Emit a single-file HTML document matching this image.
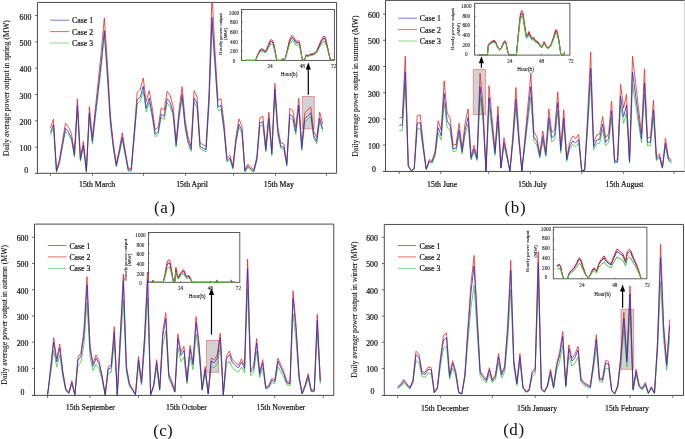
<!DOCTYPE html><html><head><meta charset="utf-8"><style>html,body{margin:0;padding:0;background:#fff;overflow:hidden;}svg{display:block;will-change:transform;}</style></head><body><svg width="685" height="439" viewBox="0 0 685 439">
<rect width="685" height="439" fill="#fff"/>
<style>text{stroke:#111;stroke-width:0.2px;} text.cap{stroke-width:0;} text.sm{stroke-width:0.08px;} text.yl{stroke-width:0.08px;}</style>
<g font-family='"Liberation Serif", serif' fill="#111">
<rect x="302.3" y="96.5" width="11.90" height="32.30" fill="#d2d2d2" stroke="#e08c8c" stroke-width="0.9"/>
<clipPath id="clipa"><rect x="37.45" y="2.45" width="299.15000000000003" height="170.85000000000002"/></clipPath>
<g clip-path="url(#clipa)">
<polyline points="50.50,135.29 53.49,127.32 56.48,172.44 59.47,163.32 62.46,146.81 65.45,131.07 68.45,134.62 71.44,140.19 74.43,157.08 77.42,109.27 80.41,161.21 83.40,147.19 86.39,172.44 89.38,116.28 92.37,143.74 95.37,117.43 98.36,92.47 101.35,66.55 104.34,33.80 107.33,77.11 110.32,123.19 113.31,148.63 116.30,166.87 119.29,154.20 122.28,139.51 125.28,155.64 128.27,171.10 131.26,171.10 134.25,137.59 137.24,103.61 140.23,101.31 143.22,90.84 146.21,111.87 149.20,102.07 152.19,117.43 155.19,136.73 158.18,134.62 161.17,117.43 164.16,119.55 167.15,102.75 170.14,106.20 173.13,116.09 176.12,147.19 179.11,118.39 182.10,98.52 185.09,127.99 188.09,143.35 191.08,151.42 194.07,102.07 197.06,107.64 200.05,148.63 203.04,150.07 206.03,151.71 209.02,103.99 212.01,24.70 215.00,67.51 218.00,110.71 220.99,109.27 223.98,130.68 226.97,162.17 229.96,159.58 232.95,169.18 235.94,142.97 238.93,127.23 241.92,133.18 244.92,172.15 247.91,167.35 250.90,170.23 253.89,172.15 256.88,160.63 259.87,126.17 262.86,124.83 265.85,152.09 268.84,121.27 271.83,155.64 274.83,93.43 277.82,134.62 280.81,148.63 283.80,149.31 286.79,166.11 289.78,117.82 292.77,119.93 295.76,134.62 298.75,108.79 301.74,150.75 304.74,122.04 307.73,119.16 310.72,116.38 313.71,138.07 316.70,143.74 319.69,121.27 322.68,131.83" fill="none" stroke="#3cc43c" stroke-width="0.8" stroke-linejoin="round"/>
<polyline points="50.50,128.01 53.49,119.05 56.48,169.81 59.47,159.55 62.46,140.97 65.45,123.26 68.45,127.26 71.44,133.52 74.43,152.53 77.42,98.74 80.41,157.17 83.40,141.40 86.39,169.81 89.38,106.63 92.37,137.52 95.37,107.92 98.36,79.84 101.35,50.68 104.34,18.00 107.33,62.56 110.32,114.40 113.31,143.02 116.30,163.54 119.29,149.29 122.28,132.76 125.28,150.91 128.27,168.30 131.26,168.30 134.25,130.60 137.24,92.37 140.23,89.78 143.22,78.01 146.21,101.66 149.20,90.64 152.19,107.92 155.19,129.63 158.18,127.26 161.17,107.92 164.16,110.30 167.15,91.40 170.14,95.29 173.13,106.41 176.12,141.40 179.11,109.00 182.10,86.65 185.09,119.80 188.09,137.08 191.08,146.16 194.07,90.64 197.06,96.91 200.05,143.02 203.04,144.64 206.03,146.48 209.02,92.80 212.01,-5.00 215.00,51.76 218.00,100.36 220.99,98.74 223.98,122.83 226.97,158.25 229.96,155.34 232.95,166.14 235.94,136.65 238.93,118.94 241.92,125.64 244.92,169.48 247.91,164.08 250.90,167.32 253.89,169.48 256.88,156.52 259.87,117.75 262.86,116.24 265.85,146.91 268.84,112.24 271.83,150.91 274.83,83.40 277.82,127.26 280.81,143.02 283.80,143.78 286.79,162.68 289.78,108.36 292.77,110.73 295.76,127.26 298.75,98.20 301.74,145.40 304.74,113.11 307.73,109.87 310.72,106.74 313.71,131.14 316.70,137.52 319.69,112.24 322.68,124.12" fill="none" stroke="#ec2424" stroke-width="0.8" stroke-linejoin="round"/>
<polyline points="50.50,132.60 53.49,124.30 56.48,171.30 59.47,161.80 62.46,144.60 65.45,128.20 68.45,131.90 71.44,137.70 74.43,155.30 77.42,105.50 80.41,159.60 83.40,145.00 86.39,171.30 89.38,112.80 92.37,141.40 95.37,114.00 98.36,88.00 101.35,61.00 104.34,30.70 107.33,72.00 110.32,120.00 113.31,146.50 116.30,165.50 119.29,152.30 122.28,137.00 125.28,153.80 128.27,169.90 131.26,169.90 134.25,135.00 137.24,99.60 140.23,97.20 143.22,86.30 146.21,108.20 149.20,98.00 152.19,114.00 155.19,134.10 158.18,131.90 161.17,114.00 164.16,116.20 167.15,98.70 170.14,102.30 173.13,112.60 176.12,145.00 179.11,115.00 182.10,94.30 185.09,125.00 188.09,141.00 191.08,149.40 194.07,98.00 197.06,103.80 200.05,146.50 203.04,148.00 206.03,149.70 209.02,100.00 212.01,17.40 215.00,62.00 218.00,107.00 220.99,105.50 223.98,127.80 226.97,160.60 229.96,157.90 232.95,167.90 235.94,140.60 238.93,124.20 241.92,130.40 244.92,171.00 247.91,166.00 250.90,169.00 253.89,171.00 256.88,159.00 259.87,123.10 262.86,121.70 265.85,150.10 268.84,118.00 271.83,153.80 274.83,89.00 277.82,131.90 280.81,146.50 283.80,147.20 286.79,164.70 289.78,114.40 292.77,116.60 295.76,131.90 298.75,105.00 301.74,148.70 304.74,118.80 307.73,115.80 310.72,112.90 313.71,135.50 316.70,141.40 319.69,118.00 322.68,129.00" fill="none" stroke="#2c2cc8" stroke-width="0.8" stroke-linejoin="round"/>
</g>
<path d="M37.45,2.45H336.6M37.45,2.45V173.3M34.95,173.3H336.6" fill="none" stroke="#4a4a4a" stroke-width="1"/>
<line x1="336.6" y1="2.45" x2="336.6" y2="173.3" stroke="#4a4a4a" stroke-width="1"/>
<line x1="50.5" y1="173.3" x2="50.5" y2="175.8" stroke="#4a4a4a" stroke-width="0.8"/>
<line x1="92.5" y1="173.3" x2="92.5" y2="175.8" stroke="#4a4a4a" stroke-width="0.8"/>
<line x1="143.5" y1="173.3" x2="143.5" y2="175.8" stroke="#4a4a4a" stroke-width="0.8"/>
<line x1="185.5" y1="173.3" x2="185.5" y2="175.8" stroke="#4a4a4a" stroke-width="0.8"/>
<line x1="233.5" y1="173.3" x2="233.5" y2="175.8" stroke="#4a4a4a" stroke-width="0.8"/>
<line x1="275.5" y1="173.3" x2="275.5" y2="175.8" stroke="#4a4a4a" stroke-width="0.8"/>
<line x1="326.5" y1="173.3" x2="326.5" y2="175.8" stroke="#4a4a4a" stroke-width="0.8"/>
<line x1="34.95" y1="15.52" x2="37.45" y2="15.52" stroke="#4a4a4a" stroke-width="0.8"/>
<text x="31.30" y="19.62" font-size="7.8" text-anchor="end" >600</text>
<line x1="34.95" y1="41.85" x2="37.45" y2="41.85" stroke="#4a4a4a" stroke-width="0.8"/>
<text x="31.30" y="45.95" font-size="7.8" text-anchor="end" >500</text>
<line x1="34.95" y1="68.18" x2="37.45" y2="68.18" stroke="#4a4a4a" stroke-width="0.8"/>
<text x="31.30" y="72.28" font-size="7.8" text-anchor="end" >400</text>
<line x1="34.95" y1="94.51" x2="37.45" y2="94.51" stroke="#4a4a4a" stroke-width="0.8"/>
<text x="31.30" y="98.61" font-size="7.8" text-anchor="end" >300</text>
<line x1="34.95" y1="120.84" x2="37.45" y2="120.84" stroke="#4a4a4a" stroke-width="0.8"/>
<text x="31.30" y="124.94" font-size="7.8" text-anchor="end" >200</text>
<line x1="34.95" y1="147.17" x2="37.45" y2="147.17" stroke="#4a4a4a" stroke-width="0.8"/>
<text x="31.30" y="151.27" font-size="7.8" text-anchor="end" >100</text>
<text x="24.20" y="173.00" font-size="7.8" text-anchor="start" >0</text>
<text x="79.00" y="187.10" font-size="7.8" text-anchor="start" >15th March</text>
<text x="176.20" y="187.10" font-size="7.8" text-anchor="start" >15th April</text>
<text x="263.80" y="187.10" font-size="7.8" text-anchor="start" >15th May</text>
<text class="yl" x="0" y="0" font-size="7.7" text-anchor="middle" transform="translate(8.9,88.15) rotate(-90)">Daily average power output in spring (MW)</text>
<line x1="50.0" y1="20.2" x2="69.2" y2="20.2" stroke="#7a7ae0" stroke-width="1"/>
<text x="72.10" y="23.20" font-size="7.8" text-anchor="start" >Case 1</text>
<line x1="50.0" y1="31.6" x2="69.2" y2="31.6" stroke="#e86a6a" stroke-width="1"/>
<text x="72.10" y="34.60" font-size="7.8" text-anchor="start" >Case 2</text>
<line x1="50.0" y1="43.0" x2="69.2" y2="43.0" stroke="#8ad88a" stroke-width="1"/>
<text x="72.10" y="46.00" font-size="7.8" text-anchor="start" >Case 3</text>
<text x="154.00" y="212.80" font-size="17" text-anchor="start" class="cap">(</text>
<text x="160.30" y="212.80" font-size="17" text-anchor="start" class="cap">a</text>
<text x="169.40" y="212.80" font-size="17" text-anchor="start" class="cap">)</text>
<line x1="308.3" y1="67.5" x2="308.3" y2="94.7" stroke="#000" stroke-width="1.2"/>
<path d="M308.3,62.5L305.7,69.5L310.90000000000003,69.5Z" fill="#000"/>
<rect x="241.5" y="9.5" width="92.90" height="50.90" fill="#fff" stroke="#4a4a4a" stroke-width="0.9"/>
<polyline points="245.90,60.39 255.40,60.39 257.80,54.93 260.10,50.65 261.60,49.83 263.20,50.29 264.70,51.75 266.30,50.65 268.60,45.74 270.50,41.83 271.70,41.46 273.30,43.65 274.80,49.93 276.40,58.39 277.10,60.39 281.00,60.39 281.80,59.48 283.30,59.12 284.50,59.48 285.50,57.75 287.50,49.93 289.60,41.46 292.00,37.64 293.50,39.01 295.80,42.55 297.00,43.19 298.20,42.19 299.30,43.19 300.50,49.20 302.00,58.39 303.20,60.12 304.50,60.03 306.30,55.20 308.20,55.93 309.80,54.84 312.10,54.48 314.40,53.84 316.70,51.66 319.10,46.38 321.40,41.46 323.70,38.28 324.90,38.64 326.80,45.01 328.70,52.75 330.30,59.75 331.10,60.12 334.30,60.12" fill="none" stroke="#2c2cc8" stroke-width="1.0" stroke-linejoin="round"/>
<polyline points="245.90,60.40 255.40,60.40 257.80,54.40 260.10,49.70 261.60,48.80 263.20,49.30 264.70,50.90 266.30,49.70 268.60,44.30 270.50,40.00 271.70,39.60 273.30,42.00 274.80,48.90 276.40,58.20 277.10,60.40 281.00,60.40 281.80,59.40 283.30,59.00 284.50,59.40 285.50,57.50 287.50,48.90 289.60,39.60 292.00,35.40 293.50,36.90 295.80,40.80 297.00,41.50 298.20,40.40 299.30,41.50 300.50,48.10 302.00,58.20 303.20,60.10 304.50,60.00 306.30,54.70 308.20,55.50 309.80,54.30 312.10,53.90 314.40,53.20 316.70,50.80 319.10,45.00 321.40,39.60 323.70,36.10 324.90,36.50 326.80,43.50 328.70,52.00 330.30,59.70 331.10,60.10 334.30,60.10" fill="none" stroke="#ec2424" stroke-width="1.0" stroke-linejoin="round"/>
<polyline points="245.90,60.38 255.40,60.38 257.80,55.64 260.10,51.93 261.60,51.21 263.20,51.61 264.70,52.87 266.30,51.93 268.60,47.66 270.50,44.26 271.70,43.95 273.30,45.84 274.80,51.29 276.40,58.64 277.10,60.38 281.00,60.38 281.80,59.59 283.30,59.27 284.50,59.59 285.50,58.09 287.50,51.29 289.60,43.95 292.00,40.63 293.50,41.81 295.80,44.89 297.00,45.45 298.20,44.58 299.30,45.45 300.50,50.66 302.00,58.64 303.20,60.14 304.50,60.06 306.30,55.88 308.20,56.51 309.80,55.56 312.10,55.24 314.40,54.69 316.70,52.79 319.10,48.21 321.40,43.95 323.70,41.18 324.90,41.50 326.80,47.03 328.70,53.74 330.30,59.83 331.10,60.14 334.30,60.14" fill="none" stroke="#3cc43c" stroke-width="1.0" stroke-linejoin="round"/>
<text x="234.00" y="62.55" font-size="5.2" text-anchor="middle" class="sm">0</text>
<text x="234.00" y="53.03" font-size="5.2" text-anchor="middle" class="sm">200</text>
<line x1="241.5" y1="50.88" x2="243.0" y2="50.88" stroke="#4a4a4a" stroke-width="0.5"/>
<text x="234.00" y="43.51" font-size="5.2" text-anchor="middle" class="sm">400</text>
<line x1="241.5" y1="41.36" x2="243.0" y2="41.36" stroke="#4a4a4a" stroke-width="0.5"/>
<text x="234.00" y="33.99" font-size="5.2" text-anchor="middle" class="sm">600</text>
<line x1="241.5" y1="31.84" x2="243.0" y2="31.84" stroke="#4a4a4a" stroke-width="0.5"/>
<text x="234.00" y="24.47" font-size="5.2" text-anchor="middle" class="sm">800</text>
<line x1="241.5" y1="22.32" x2="243.0" y2="22.32" stroke="#4a4a4a" stroke-width="0.5"/>
<text x="234.00" y="14.95" font-size="5.2" text-anchor="middle" class="sm">1000</text>
<line x1="241.5" y1="12.80" x2="243.0" y2="12.80" stroke="#4a4a4a" stroke-width="0.5"/>
<text x="270.01" y="68.10" font-size="5.2" text-anchor="middle" class="sm">24</text>
<line x1="270.01" y1="60.4" x2="270.01" y2="58.9" stroke="#4a4a4a" stroke-width="0.5"/>
<text x="302.22" y="68.10" font-size="5.2" text-anchor="middle" class="sm">48</text>
<line x1="302.22" y1="60.4" x2="302.22" y2="58.9" stroke="#4a4a4a" stroke-width="0.5"/>
<text x="333.60" y="68.10" font-size="5.2" text-anchor="middle" class="sm">72</text>
<text x="289.10" y="75.70" font-size="5.2" text-anchor="middle" class="sm">Hour(h)</text>
<text class="sm" x="0" y="0" font-size="5.0" text-anchor="middle" transform="translate(222.3,34.0) rotate(-90)">Hourly power output</text>
<text class="sm" x="0" y="0" font-size="5.0" text-anchor="middle" transform="translate(227.10000000000002,34.0) rotate(-90)">(MW)</text>
<rect x="473.3" y="69.6" width="12.30" height="44.90" fill="#d2d2d2" stroke="#e08c8c" stroke-width="0.9"/>
<clipPath id="clipb"><rect x="385.47" y="0.4" width="299.53" height="171.04999999999998"/></clipPath>
<g clip-path="url(#clipb)">
<polyline points="399.30,131.00 402.29,130.38 405.28,84.00 408.27,166.64 411.26,170.86 414.25,168.92 417.24,129.06 420.23,128.44 423.22,150.27 426.21,169.54 429.20,162.50 432.19,163.12 435.18,155.46 438.17,132.93 441.16,139.97 444.15,102.66 447.14,127.12 450.13,131.00 453.12,151.59 456.11,150.80 459.10,134.87 462.09,154.14 465.08,134.87 468.07,123.96 471.06,159.95 474.05,151.59 477.04,160.56 480.03,96.85 483.02,121.76 486.01,170.86 489.00,106.44 491.99,130.38 494.98,155.46 497.97,122.02 500.96,168.31 503.95,145.78 506.94,158.01 509.93,170.86 512.92,143.23 515.91,107.76 518.90,143.23 521.89,170.86 524.88,146.22 527.87,121.58 530.86,96.85 533.85,141.29 536.84,145.16 539.83,158.01 542.82,140.68 545.81,156.69 548.80,123.96 551.79,141.91 554.78,139.36 557.77,110.93 560.76,152.82 563.75,124.57 566.74,161.18 569.73,149.04 572.72,144.46 575.71,146.40 578.70,143.23 581.69,170.86 584.68,170.16 587.67,128.44 590.66,80.75 593.65,149.65 596.64,143.84 599.63,143.23 602.62,129.76 605.61,145.78 608.60,142.61 611.59,118.06 614.58,163.12 617.57,162.50 620.56,105.21 623.55,123.34 626.54,112.87 629.53,163.12 632.52,84.00 635.51,103.89 638.50,123.34 641.49,142.61 644.48,93.60 647.47,145.78 650.46,145.78 653.45,117.36 656.44,160.56 659.43,158.01 662.42,168.31 665.41,146.40 668.40,160.56 671.39,163.12" fill="none" stroke="#3cc43c" stroke-width="0.8" stroke-linejoin="round"/>
<polyline points="399.30,118.17 402.29,117.36 405.28,56.23 408.27,165.15 411.26,170.72 414.25,168.17 417.24,115.62 420.23,114.81 423.22,143.58 426.21,168.98 429.20,159.70 432.19,160.51 435.18,150.42 438.17,120.72 441.16,130.00 444.15,80.82 447.14,113.07 450.13,118.17 453.12,145.32 456.11,144.27 459.10,123.28 462.09,148.68 465.08,123.28 468.07,108.89 471.06,156.34 474.05,145.32 477.04,157.15 480.03,73.16 483.02,105.99 486.01,170.72 489.00,85.81 491.99,117.36 494.98,150.42 497.97,106.34 500.96,167.36 503.95,137.66 506.94,153.78 509.93,170.72 512.92,134.30 515.91,87.55 518.90,134.30 521.89,170.72 524.88,138.24 527.87,105.76 530.86,73.16 533.85,131.74 536.84,136.85 539.83,153.78 542.82,130.93 545.81,152.04 548.80,108.89 551.79,132.56 554.78,129.19 557.77,91.72 560.76,146.94 563.75,109.70 566.74,157.96 569.73,141.95 572.72,135.92 575.71,138.47 578.70,134.30 581.69,170.72 584.68,169.79 587.67,114.81 590.66,51.94 593.65,142.76 596.64,135.11 599.63,134.30 602.62,116.55 605.61,137.66 608.60,133.48 611.59,101.12 614.58,160.51 617.57,159.70 620.56,84.18 623.55,108.08 626.54,94.28 629.53,160.51 632.52,56.23 635.51,82.44 638.50,108.08 641.49,133.48 644.48,68.87 647.47,137.66 650.46,137.66 653.45,100.19 656.44,157.15 659.43,153.78 662.42,167.36 665.41,138.47 668.40,157.15 671.39,160.51" fill="none" stroke="#ec2424" stroke-width="0.8" stroke-linejoin="round"/>
<polyline points="399.30,125.50 402.29,124.80 405.28,72.10 408.27,166.00 411.26,170.80 414.25,168.60 417.24,123.30 420.23,122.60 423.22,147.40 426.21,169.30 429.20,161.30 432.19,162.00 435.18,153.30 438.17,127.70 441.16,135.70 444.15,93.30 447.14,121.10 450.13,125.50 453.12,148.90 456.11,148.00 459.10,129.90 462.09,151.80 465.08,129.90 468.07,117.50 471.06,158.40 474.05,148.90 477.04,159.10 480.03,86.70 483.02,115.00 486.01,170.80 489.00,97.60 491.99,124.80 494.98,153.30 497.97,115.30 500.96,167.90 503.95,142.30 506.94,156.20 509.93,170.80 512.92,139.40 515.91,99.10 518.90,139.40 521.89,170.80 524.88,142.80 527.87,114.80 530.86,86.70 533.85,137.20 536.84,141.60 539.83,156.20 542.82,136.50 545.81,154.70 548.80,117.50 551.79,137.90 554.78,135.00 557.77,102.70 560.76,150.30 563.75,118.20 566.74,159.80 569.73,146.00 572.72,140.80 575.71,143.00 578.70,139.40 581.69,170.80 584.68,170.00 587.67,122.60 590.66,68.40 593.65,146.70 596.64,140.10 599.63,139.40 602.62,124.10 605.61,142.30 608.60,138.70 611.59,110.80 614.58,162.00 617.57,161.30 620.56,96.20 623.55,116.80 626.54,104.90 629.53,162.00 632.52,72.10 635.51,94.70 638.50,116.80 641.49,138.70 644.48,83.00 647.47,142.30 650.46,142.30 653.45,110.00 656.44,159.10 659.43,156.20 662.42,167.90 665.41,143.00 668.40,159.10 671.39,162.00" fill="none" stroke="#2c2cc8" stroke-width="0.8" stroke-linejoin="round"/>
</g>
<path d="M385.47,0.4H685M385.47,0.4V171.45M382.97,171.45H685" fill="none" stroke="#4a4a4a" stroke-width="1"/>
<line x1="684.5" y1="0.4" x2="684.5" y2="171.45" stroke="#d4d4d4" stroke-width="1"/>
<line x1="399.3" y1="171.45" x2="399.3" y2="173.95" stroke="#4a4a4a" stroke-width="0.8"/>
<line x1="440.7" y1="171.45" x2="440.7" y2="173.95" stroke="#4a4a4a" stroke-width="0.8"/>
<line x1="488.4" y1="171.45" x2="488.4" y2="173.95" stroke="#4a4a4a" stroke-width="0.8"/>
<line x1="530.4" y1="171.45" x2="530.4" y2="173.95" stroke="#4a4a4a" stroke-width="0.8"/>
<line x1="581.9" y1="171.45" x2="581.9" y2="173.95" stroke="#4a4a4a" stroke-width="0.8"/>
<line x1="623.6" y1="171.45" x2="623.6" y2="173.95" stroke="#4a4a4a" stroke-width="0.8"/>
<line x1="674.1" y1="171.45" x2="674.1" y2="173.95" stroke="#4a4a4a" stroke-width="0.8"/>
<line x1="382.97" y1="14.10" x2="385.47" y2="14.10" stroke="#4a4a4a" stroke-width="0.8"/>
<text x="379.70" y="18.20" font-size="7.8" text-anchor="end" >600</text>
<line x1="382.97" y1="40.30" x2="385.47" y2="40.30" stroke="#4a4a4a" stroke-width="0.8"/>
<text x="379.70" y="44.40" font-size="7.8" text-anchor="end" >500</text>
<line x1="382.97" y1="66.50" x2="385.47" y2="66.50" stroke="#4a4a4a" stroke-width="0.8"/>
<text x="379.70" y="70.60" font-size="7.8" text-anchor="end" >400</text>
<line x1="382.97" y1="92.70" x2="385.47" y2="92.70" stroke="#4a4a4a" stroke-width="0.8"/>
<text x="379.70" y="96.80" font-size="7.8" text-anchor="end" >300</text>
<line x1="382.97" y1="118.90" x2="385.47" y2="118.90" stroke="#4a4a4a" stroke-width="0.8"/>
<text x="379.70" y="123.00" font-size="7.8" text-anchor="end" >200</text>
<line x1="382.97" y1="145.10" x2="385.47" y2="145.10" stroke="#4a4a4a" stroke-width="0.8"/>
<text x="379.70" y="149.20" font-size="7.8" text-anchor="end" >100</text>
<text x="371.90" y="171.70" font-size="7.8" text-anchor="start" >0</text>
<text x="427.10" y="186.80" font-size="7.8" text-anchor="start" >15th June</text>
<text x="518.00" y="186.80" font-size="7.8" text-anchor="start" >15th July</text>
<text x="605.50" y="186.80" font-size="7.8" text-anchor="start" >15th August</text>
<text class="yl" x="0" y="0" font-size="7.7" text-anchor="middle" transform="translate(357.6,86.1) rotate(-90)">Daily average power output in summer (MW)</text>
<line x1="398.2" y1="18.2" x2="416.9" y2="18.2" stroke="#7a7ae0" stroke-width="1"/>
<text x="419.80" y="21.20" font-size="7.8" text-anchor="start" >Case 1</text>
<line x1="398.2" y1="29.6" x2="416.9" y2="29.6" stroke="#e86a6a" stroke-width="1"/>
<text x="419.80" y="32.60" font-size="7.8" text-anchor="start" >Case 2</text>
<line x1="398.2" y1="41.0" x2="416.9" y2="41.0" stroke="#8ad88a" stroke-width="1"/>
<text x="419.80" y="44.00" font-size="7.8" text-anchor="start" >Case 3</text>
<text x="504.40" y="212.80" font-size="17" text-anchor="start" class="cap">(</text>
<text x="510.70" y="212.80" font-size="17" text-anchor="start" class="cap">b</text>
<text x="520.10" y="212.80" font-size="17" text-anchor="start" class="cap">)</text>
<line x1="481.4" y1="61.2" x2="481.4" y2="67.8" stroke="#000" stroke-width="1.2"/>
<path d="M481.4,56.2L478.79999999999995,63.2L484.0,63.2Z" fill="#000"/>
<rect x="474.6" y="3.3" width="95.30" height="51.80" fill="#fff" stroke="#4a4a4a" stroke-width="0.9"/>
<polyline points="478.70,54.80 487.50,54.80 488.20,45.68 489.70,43.61 491.90,42.20 494.10,41.17 495.50,42.20 497.40,46.72 499.50,49.82 501.40,48.03 503.20,43.90 504.70,41.55 506.10,43.24 507.20,49.44 508.70,54.61 509.80,54.80 516.40,54.80 518.30,35.06 520.20,17.67 521.60,13.06 522.90,14.76 524.50,25.75 526.30,36.75 527.50,36.19 529.00,32.90 530.60,36.75 532.20,39.10 533.70,38.44 535.50,41.36 538.00,42.49 539.80,45.40 541.70,47.47 544.10,42.49 546.00,45.96 547.80,48.31 550.90,45.40 553.40,38.44 555.80,30.92 557.00,32.15 558.90,40.79 560.70,53.48 562.00,54.80 563.80,54.80 564.70,51.79" fill="none" stroke="#2c2cc8" stroke-width="1.0" stroke-linejoin="round"/>
<polyline points="478.70,54.80 487.50,54.80 488.20,45.10 489.70,42.90 491.90,41.40 494.10,40.30 495.50,41.40 497.40,46.20 499.50,49.50 501.40,47.60 503.20,43.20 504.70,40.70 506.10,42.50 507.20,49.10 508.70,54.60 509.80,54.80 516.40,54.80 518.30,33.80 520.20,15.30 521.60,10.40 522.90,12.20 524.50,23.90 526.30,35.60 527.50,35.00 529.00,31.50 530.60,35.60 532.20,38.10 533.70,37.40 535.50,40.50 538.00,41.70 539.80,44.80 541.70,47.00 544.10,41.70 546.00,45.40 547.80,47.90 550.90,44.80 553.40,37.40 555.80,29.40 557.00,30.70 558.90,39.90 560.70,53.40 562.00,54.80 563.80,54.80 564.70,51.60" fill="none" stroke="#ec2424" stroke-width="1.0" stroke-linejoin="round"/>
<polyline points="478.70,54.80 487.50,54.80 488.20,46.36 489.70,44.45 491.90,43.14 494.10,42.18 495.50,43.14 497.40,47.32 499.50,50.19 501.40,48.54 503.20,44.71 504.70,42.53 506.10,44.10 507.20,49.84 508.70,54.63 509.80,54.80 516.40,54.80 518.30,36.53 520.20,20.43 521.60,16.17 522.90,17.74 524.50,27.92 526.30,38.10 527.50,37.57 529.00,34.53 530.60,38.10 532.20,40.27 533.70,39.66 535.50,42.36 538.00,43.40 539.80,46.10 541.70,48.01 544.10,43.40 546.00,46.62 547.80,48.80 550.90,46.10 553.40,39.66 555.80,32.70 557.00,33.83 558.90,41.84 560.70,53.58 562.00,54.80 563.80,54.80 564.70,52.02" fill="none" stroke="#3cc43c" stroke-width="1.0" stroke-linejoin="round"/>
<text x="466.30" y="56.45" font-size="5.2" text-anchor="middle" class="sm">0</text>
<text x="466.30" y="46.79" font-size="5.2" text-anchor="middle" class="sm">200</text>
<line x1="474.6" y1="45.44" x2="476.1" y2="45.44" stroke="#4a4a4a" stroke-width="0.5"/>
<text x="466.30" y="37.13" font-size="5.2" text-anchor="middle" class="sm">400</text>
<line x1="474.6" y1="35.78" x2="476.1" y2="35.78" stroke="#4a4a4a" stroke-width="0.5"/>
<text x="466.30" y="27.47" font-size="5.2" text-anchor="middle" class="sm">600</text>
<line x1="474.6" y1="26.12" x2="476.1" y2="26.12" stroke="#4a4a4a" stroke-width="0.5"/>
<text x="466.30" y="17.81" font-size="5.2" text-anchor="middle" class="sm">800</text>
<line x1="474.6" y1="16.46" x2="476.1" y2="16.46" stroke="#4a4a4a" stroke-width="0.5"/>
<text x="466.30" y="8.15" font-size="5.2" text-anchor="middle" class="sm">1000</text>
<line x1="474.6" y1="6.80" x2="476.1" y2="6.80" stroke="#4a4a4a" stroke-width="0.5"/>
<text x="509.80" y="62.80" font-size="5.2" text-anchor="middle" class="sm">24</text>
<line x1="509.80" y1="55.1" x2="509.80" y2="53.6" stroke="#4a4a4a" stroke-width="0.5"/>
<text x="541.51" y="62.80" font-size="5.2" text-anchor="middle" class="sm">48</text>
<line x1="541.51" y1="55.1" x2="541.51" y2="53.6" stroke="#4a4a4a" stroke-width="0.5"/>
<text x="571.00" y="62.80" font-size="5.2" text-anchor="middle" class="sm">72</text>
<text x="525.60" y="70.50" font-size="5.2" text-anchor="middle" class="sm">Hour(h)</text>
<text class="sm" x="0" y="0" font-size="5.0" text-anchor="middle" transform="translate(453.6,29.2) rotate(-90)">Hourly power output</text>
<text class="sm" x="0" y="0" font-size="5.0" text-anchor="middle" transform="translate(460.0,29.2) rotate(-90)">(MW)</text>
<rect x="206.4" y="340.4" width="12.20" height="31.90" fill="#d2d2d2" stroke="#e08c8c" stroke-width="0.9"/>
<clipPath id="clipc"><rect x="34.5" y="224.1" width="299.25" height="171.29999999999998"/></clipPath>
<g clip-path="url(#clipc)">
<polyline points="47.60,394.60 50.63,373.94 53.66,350.58 56.69,367.13 59.72,355.54 62.75,376.37 65.78,390.48 68.81,393.51 71.84,384.35 74.87,394.60 77.90,365.96 80.93,362.26 83.96,344.54 86.99,302.62 90.02,356.72 93.05,370.83 96.08,364.11 99.11,368.98 102.14,380.07 105.17,394.60 108.20,373.26 111.23,372.09 114.26,341.93 117.29,394.60 120.32,347.06 123.35,300.50 126.38,372.68 129.41,386.20 132.44,390.48 135.47,394.60 138.50,365.28 141.53,384.94 144.56,348.74 147.59,298.00 150.62,394.60 153.65,387.38 156.68,367.80 159.71,390.48 162.74,345.71 165.77,330.84 168.80,378.81 171.83,384.94 174.86,392.33 177.89,347.56 180.92,361.67 183.95,357.30 186.98,383.68 190.01,356.72 193.04,369.57 196.07,333.95 199.10,355.54 202.13,390.48 205.16,373.26 208.19,394.10 211.22,366.54 214.25,367.80 217.28,364.11 220.31,346.89 223.34,394.60 226.37,364.70 229.40,361.00 232.43,367.80 235.46,370.24 238.49,372.09 241.52,367.13 244.55,372.68 247.58,288.84 250.61,375.70 253.64,372.68 256.67,351.26 259.70,377.55 262.73,367.80 265.76,389.22 268.79,387.96 271.82,382.50 274.85,383.68 277.88,366.54 280.91,372.09 283.94,377.55 286.97,384.94 290.00,385.53 293.03,313.71 296.06,340.34 299.09,380.07 302.12,394.10 305.15,387.38 308.18,378.81 311.21,391.66 314.24,391.66 317.27,332.10 320.30,383.68" fill="none" stroke="#3cc43c" stroke-width="0.8" stroke-linejoin="round"/>
<polyline points="47.60,394.80 50.63,367.49 53.66,337.75 56.69,358.82 59.72,344.06 62.75,370.59 65.78,388.57 68.81,392.42 71.84,380.76 74.87,394.80 77.90,357.33 80.93,352.62 83.96,330.04 86.99,276.65 90.02,345.56 93.05,363.53 96.08,354.97 99.11,361.18 102.14,375.30 105.17,394.80 108.20,366.64 111.23,365.14 114.26,326.72 117.29,394.80 120.32,333.25 123.35,274.20 126.38,365.89 129.41,383.11 132.44,388.57 135.47,394.80 138.50,356.47 141.53,381.51 144.56,335.39 147.59,272.10 150.62,394.80 153.65,384.61 156.68,359.68 159.71,388.57 162.74,331.54 165.77,312.60 168.80,373.70 171.83,381.51 174.86,390.92 177.89,333.89 180.92,351.87 183.95,346.31 186.98,379.90 190.01,345.56 193.04,361.93 196.07,316.56 199.10,344.06 202.13,388.57 205.16,366.64 208.19,393.17 211.22,358.08 214.25,359.68 217.28,354.97 220.31,333.04 223.34,394.80 226.37,355.72 229.40,351.01 232.43,359.68 235.46,362.78 238.49,365.14 241.52,358.82 244.55,365.89 247.58,259.10 250.61,369.74 253.64,365.89 256.67,338.60 259.70,372.09 262.73,359.68 265.76,386.97 268.79,385.36 271.82,378.41 274.85,379.90 277.88,358.08 280.91,365.14 283.94,372.09 286.97,381.51 290.00,382.26 293.03,290.77 296.06,324.69 299.09,375.30 302.12,393.17 305.15,384.61 308.18,373.70 311.21,390.07 314.24,390.07 317.27,314.21 320.30,379.90" fill="none" stroke="#ec2424" stroke-width="0.8" stroke-linejoin="round"/>
<polyline points="47.60,394.80 50.63,370.00 53.66,342.20 56.69,361.90 59.72,348.10 62.75,372.90 65.78,389.70 68.81,393.30 71.84,382.40 74.87,394.80 77.90,360.50 80.93,356.10 83.96,335.00 86.99,285.10 90.02,349.50 93.05,366.30 96.08,358.30 99.11,364.10 102.14,377.30 105.17,394.80 108.20,369.20 111.23,367.80 114.26,331.90 117.29,394.80 120.32,338.00 123.35,281.00 126.38,368.50 129.41,384.60 132.44,389.70 135.47,394.80 138.50,359.70 141.53,383.10 144.56,340.00 147.59,280.00 150.62,394.80 153.65,386.00 156.68,362.70 159.71,389.70 162.74,336.40 165.77,318.70 168.80,375.80 171.83,383.10 174.86,391.90 177.89,338.60 180.92,355.40 183.95,350.20 186.98,381.60 190.01,349.50 193.04,364.80 196.07,322.40 199.10,348.10 202.13,389.70 205.16,369.20 208.19,394.00 211.22,361.20 214.25,362.70 217.28,358.30 220.31,337.80 223.34,394.80 226.37,359.00 229.40,354.60 232.43,362.70 235.46,365.60 238.49,367.80 241.52,361.90 244.55,368.50 247.58,268.70 250.61,372.10 253.64,368.50 256.67,343.00 259.70,374.30 262.73,362.70 265.76,388.20 268.79,386.70 271.82,380.20 274.85,381.60 277.88,361.20 280.91,367.80 283.94,374.30 286.97,383.10 290.00,383.80 293.03,298.30 296.06,330.00 299.09,377.30 302.12,394.00 305.15,386.00 308.18,375.80 311.21,391.10 314.24,391.10 317.27,320.20 320.30,381.60" fill="none" stroke="#2c2cc8" stroke-width="0.8" stroke-linejoin="round"/>
</g>
<path d="M34.5,224.1H333.75M34.5,224.1V395.4M32.0,395.4H333.75" fill="none" stroke="#4a4a4a" stroke-width="1"/>
<line x1="333.75" y1="224.1" x2="333.75" y2="395.4" stroke="#4a4a4a" stroke-width="1"/>
<line x1="47.6" y1="395.4" x2="47.6" y2="397.9" stroke="#4a4a4a" stroke-width="0.8"/>
<line x1="90.0" y1="395.4" x2="90.0" y2="397.9" stroke="#4a4a4a" stroke-width="0.8"/>
<line x1="138.5" y1="395.4" x2="138.5" y2="397.9" stroke="#4a4a4a" stroke-width="0.8"/>
<line x1="181.2" y1="395.4" x2="181.2" y2="397.9" stroke="#4a4a4a" stroke-width="0.8"/>
<line x1="232.5" y1="395.4" x2="232.5" y2="397.9" stroke="#4a4a4a" stroke-width="0.8"/>
<line x1="274.7" y1="395.4" x2="274.7" y2="397.9" stroke="#4a4a4a" stroke-width="0.8"/>
<line x1="323.3" y1="395.4" x2="323.3" y2="397.9" stroke="#4a4a4a" stroke-width="0.8"/>
<line x1="32.0" y1="237.28" x2="34.5" y2="237.28" stroke="#4a4a4a" stroke-width="0.8"/>
<text x="28.40" y="241.18" font-size="7.8" text-anchor="end" >600</text>
<line x1="32.0" y1="263.50" x2="34.5" y2="263.50" stroke="#4a4a4a" stroke-width="0.8"/>
<text x="28.40" y="267.40" font-size="7.8" text-anchor="end" >500</text>
<line x1="32.0" y1="289.72" x2="34.5" y2="289.72" stroke="#4a4a4a" stroke-width="0.8"/>
<text x="28.40" y="293.62" font-size="7.8" text-anchor="end" >400</text>
<line x1="32.0" y1="315.94" x2="34.5" y2="315.94" stroke="#4a4a4a" stroke-width="0.8"/>
<text x="28.40" y="319.84" font-size="7.8" text-anchor="end" >300</text>
<line x1="32.0" y1="342.16" x2="34.5" y2="342.16" stroke="#4a4a4a" stroke-width="0.8"/>
<text x="28.40" y="346.06" font-size="7.8" text-anchor="end" >200</text>
<line x1="32.0" y1="368.38" x2="34.5" y2="368.38" stroke="#4a4a4a" stroke-width="0.8"/>
<text x="28.40" y="372.28" font-size="7.8" text-anchor="end" >100</text>
<text x="20.50" y="394.70" font-size="7.8" text-anchor="start" >0</text>
<text x="65.80" y="410.40" font-size="7.8" text-anchor="start" >15th September</text>
<text x="166.00" y="410.40" font-size="7.8" text-anchor="start" >15th October</text>
<text x="256.50" y="410.40" font-size="7.8" text-anchor="start" >15th November</text>
<text class="yl" x="0" y="0" font-size="7.7" text-anchor="middle" transform="translate(6.8,314.85) rotate(-90)">Daily average power output in autumn (MW)</text>
<line x1="47.8" y1="245.5" x2="66.5" y2="245.5" stroke="#7a7ae0" stroke-width="1"/>
<text x="69.40" y="248.50" font-size="7.8" text-anchor="start" >Case 1</text>
<line x1="47.8" y1="256.9" x2="66.5" y2="256.9" stroke="#e86a6a" stroke-width="1"/>
<text x="69.40" y="259.90" font-size="7.8" text-anchor="start" >Case 2</text>
<line x1="47.8" y1="268.3" x2="66.5" y2="268.3" stroke="#8ad88a" stroke-width="1"/>
<text x="69.40" y="271.30" font-size="7.8" text-anchor="start" >Case 3</text>
<text x="153.30" y="435.60" font-size="17" text-anchor="start" class="cap">(</text>
<text x="159.20" y="435.60" font-size="17" text-anchor="start" class="cap">c</text>
<text x="166.90" y="435.60" font-size="17" text-anchor="start" class="cap">)</text>
<line x1="211.5" y1="293.0" x2="211.5" y2="334.6" stroke="#000" stroke-width="1.2"/>
<path d="M211.5,288.0L208.9,295.0L214.1,295.0Z" fill="#000"/>
<rect x="148.4" y="232.5" width="91.40" height="49.80" fill="#fff" stroke="#4a4a4a" stroke-width="0.9"/>
<polyline points="149.20,282.30 152.40,282.30 152.90,280.41 153.60,282.30 163.20,282.30 165.10,275.08 167.10,264.84 168.70,262.78 169.90,263.81 171.50,271.64 173.50,282.30 174.70,282.30 175.90,269.57 177.10,275.08 178.30,278.17 179.90,275.08 181.50,273.36 183.10,271.29 184.30,272.32 185.90,276.45 187.10,277.14 188.70,276.37 190.30,278.52 191.90,281.96 192.70,282.30 216.10,282.30 216.80,280.24 217.50,282.30 230.70,282.30 231.40,280.24 232.10,282.30 235.00,282.30" fill="none" stroke="#2c2cc8" stroke-width="1.0" stroke-linejoin="round"/>
<polyline points="149.20,282.30 152.40,282.30 152.90,280.10 153.60,282.30 163.20,282.30 165.10,273.90 167.10,262.00 168.70,259.60 169.90,260.80 171.50,269.90 173.50,282.30 174.70,282.30 175.90,267.50 177.10,273.90 178.30,277.50 179.90,273.90 181.50,271.90 183.10,269.50 184.30,270.70 185.90,275.50 187.10,276.30 188.70,275.40 190.30,277.90 191.90,281.90 192.70,282.30 216.10,282.30 216.80,279.90 217.50,282.30 230.70,282.30 231.40,279.90 232.10,282.30 235.00,282.30" fill="none" stroke="#ec2424" stroke-width="1.0" stroke-linejoin="round"/>
<polyline points="149.20,282.30 152.40,282.30 152.90,280.83 153.60,282.30 163.20,282.30 165.10,276.67 167.10,268.70 168.70,267.09 169.90,267.89 171.50,273.99 173.50,282.30 174.70,282.30 175.90,272.38 177.10,276.67 178.30,279.08 179.90,276.67 181.50,275.33 183.10,273.72 184.30,274.53 185.90,277.74 187.10,278.28 188.70,277.68 190.30,279.35 191.90,282.03 192.70,282.30 216.10,282.30 216.80,280.69 217.50,282.30 230.70,282.30 231.40,280.69 232.10,282.30 235.00,282.30" fill="none" stroke="#3cc43c" stroke-width="1.0" stroke-linejoin="round"/>
<text x="140.50" y="285.25" font-size="5.2" text-anchor="middle" class="sm">0</text>
<text x="140.50" y="275.63" font-size="5.2" text-anchor="middle" class="sm">200</text>
<line x1="148.4" y1="272.68" x2="149.9" y2="272.68" stroke="#4a4a4a" stroke-width="0.5"/>
<text x="140.50" y="266.01" font-size="5.2" text-anchor="middle" class="sm">400</text>
<line x1="148.4" y1="263.06" x2="149.9" y2="263.06" stroke="#4a4a4a" stroke-width="0.5"/>
<text x="140.50" y="256.39" font-size="5.2" text-anchor="middle" class="sm">600</text>
<line x1="148.4" y1="253.44" x2="149.9" y2="253.44" stroke="#4a4a4a" stroke-width="0.5"/>
<text x="140.50" y="246.77" font-size="5.2" text-anchor="middle" class="sm">800</text>
<line x1="148.4" y1="243.82" x2="149.9" y2="243.82" stroke="#4a4a4a" stroke-width="0.5"/>
<text x="140.50" y="237.15" font-size="5.2" text-anchor="middle" class="sm">1000</text>
<line x1="148.4" y1="234.20" x2="149.9" y2="234.20" stroke="#4a4a4a" stroke-width="0.5"/>
<text x="180.51" y="290.00" font-size="5.2" text-anchor="middle" class="sm">24</text>
<line x1="180.51" y1="282.3" x2="180.51" y2="280.8" stroke="#4a4a4a" stroke-width="0.5"/>
<text x="210.22" y="290.00" font-size="5.2" text-anchor="middle" class="sm">48</text>
<line x1="210.22" y1="282.3" x2="210.22" y2="280.8" stroke="#4a4a4a" stroke-width="0.5"/>
<text x="238.40" y="290.00" font-size="5.2" text-anchor="middle" class="sm">72</text>
<text x="197.20" y="297.60" font-size="5.2" text-anchor="middle" class="sm">Hour(h)</text>
<text class="sm" x="0" y="0" font-size="5.0" text-anchor="middle" transform="translate(127.3,259.9) rotate(-90)">Hourly power output</text>
<text class="sm" x="0" y="0" font-size="5.0" text-anchor="middle" transform="translate(131.4,259.9) rotate(-90)">(MW)</text>
<rect x="621.0" y="309.2" width="12.70" height="60.10" fill="#d2d2d2" stroke="#e08c8c" stroke-width="0.9"/>
<clipPath id="clipd"><rect x="384.3" y="224.45" width="299.2" height="171.0"/></clipPath>
<g clip-path="url(#clipd)">
<polyline points="397.60,388.58 400.66,386.71 403.72,382.97 406.77,386.12 409.83,389.18 412.89,383.56 415.95,360.62 419.01,363.08 422.06,376.77 425.12,377.36 428.18,373.02 431.24,373.70 434.30,392.92 437.35,389.18 440.41,366.22 443.47,348.20 446.53,346.33 449.59,379.23 452.64,368.09 455.70,376.17 458.76,392.92 461.82,394.11 464.88,378.63 467.93,341.40 470.99,307.40 474.05,285.31 477.11,331.20 480.17,376.17 483.22,379.91 486.28,382.97 489.34,373.70 492.40,382.97 495.46,379.23 498.51,362.49 501.57,378.04 504.63,372.43 507.69,339.70 510.75,289.22 513.80,367.50 516.86,385.44 519.92,362.49 522.98,388.58 526.04,392.32 529.09,391.04 532.15,376.77 535.21,373.70 538.27,282.42 541.33,389.77 544.38,392.32 547.44,387.31 550.50,374.89 553.56,388.58 556.62,370.56 559.67,361.29 562.73,345.14 565.79,387.31 568.85,355.69 571.91,366.22 574.96,363.08 578.02,356.88 581.08,382.38 584.14,385.44 587.20,386.71 590.25,388.32 593.31,369.97 596.37,347.61 599.43,381.69 602.49,382.38 605.54,368.09 608.60,368.69 611.66,391.04 614.72,394.11 617.78,387.31 620.83,363.76 623.89,330.10 626.95,366.90 630.01,309.11 633.07,390.45 636.12,374.89 639.18,387.31 642.24,389.77 645.30,385.44 648.36,393.51 651.41,388.58 654.47,393.51 657.53,352.45 660.59,281.50 663.65,339.70 666.70,369.97 669.76,335.71" fill="none" stroke="#3cc43c" stroke-width="0.8" stroke-linejoin="round"/>
<polyline points="397.60,386.66 400.66,384.29 403.72,379.53 406.77,383.53 409.83,387.42 412.89,380.29 415.95,351.13 419.01,354.26 422.06,371.65 425.12,372.41 428.18,366.90 431.24,367.76 434.30,392.17 437.35,387.42 440.41,358.26 443.47,335.36 446.53,332.99 449.59,374.78 452.64,360.63 455.70,370.89 458.76,392.17 461.82,393.68 464.88,374.03 467.93,326.72 470.99,283.52 474.05,255.44 477.11,313.76 480.17,370.89 483.22,375.65 486.28,379.53 489.34,367.76 492.40,379.53 495.46,374.78 498.51,353.51 501.57,373.27 504.63,366.14 507.69,324.56 510.75,260.41 513.80,359.88 516.86,382.67 519.92,353.51 522.98,386.66 526.04,391.41 529.09,389.79 532.15,371.65 535.21,367.76 538.27,251.77 541.33,388.17 544.38,391.41 547.44,385.04 550.50,369.27 553.56,386.66 556.62,363.77 559.67,351.99 562.73,331.47 565.79,385.04 568.85,344.87 571.91,358.26 574.96,354.26 578.02,346.38 581.08,378.78 584.14,382.67 587.20,384.29 590.25,386.34 593.31,363.01 596.37,334.61 599.43,377.91 602.49,378.78 605.54,360.63 608.60,361.39 611.66,389.79 614.72,393.68 617.78,385.04 620.83,355.13 623.89,312.36 626.95,359.12 630.01,286.00 633.07,389.04 636.12,369.27 639.18,385.04 642.24,388.17 645.30,382.67 648.36,392.93 651.41,386.66 654.47,392.93 657.53,340.76 660.59,244.40 663.65,324.56 666.70,363.01 669.76,319.49" fill="none" stroke="#ec2424" stroke-width="0.8" stroke-linejoin="round"/>
<polyline points="397.60,387.50 400.66,385.30 403.72,380.90 406.77,384.60 409.83,388.20 412.89,381.60 415.95,354.60 419.01,357.50 422.06,373.60 425.12,374.30 428.18,369.20 431.24,370.00 434.30,392.60 437.35,388.20 440.41,361.20 443.47,340.00 446.53,337.80 449.59,376.50 452.64,363.40 455.70,372.90 458.76,392.60 461.82,394.00 464.88,375.80 467.93,332.00 470.99,292.00 474.05,266.00 477.11,320.00 480.17,372.90 483.22,377.30 486.28,380.90 489.34,370.00 492.40,380.90 495.46,376.50 498.51,356.80 501.57,375.10 504.63,368.50 507.69,330.00 510.75,270.60 513.80,362.70 516.86,383.80 519.92,356.80 522.98,387.50 526.04,391.90 529.09,390.40 532.15,373.60 535.21,370.00 538.27,262.60 541.33,388.90 544.38,391.90 547.44,386.00 550.50,371.40 553.56,387.50 556.62,366.30 559.67,355.40 562.73,336.40 565.79,386.00 568.85,348.80 571.91,361.20 574.96,357.50 578.02,350.20 581.08,380.20 584.14,383.80 587.20,385.30 590.25,387.20 593.31,365.60 596.37,339.30 599.43,379.40 602.49,380.20 605.54,363.40 608.60,364.10 611.66,390.40 614.72,394.00 617.78,386.00 620.83,358.30 623.89,318.70 626.95,362.00 630.01,294.00 633.07,389.70 636.12,371.40 639.18,386.00 642.24,388.90 645.30,383.80 648.36,393.30 651.41,387.50 654.47,393.30 657.53,345.00 660.59,257.50 663.65,330.00 666.70,365.60 669.76,325.30" fill="none" stroke="#2c2cc8" stroke-width="0.8" stroke-linejoin="round"/>
</g>
<path d="M384.3,224.45H683.5M384.3,224.45V395.45M381.8,395.45H683.5" fill="none" stroke="#4a4a4a" stroke-width="1"/>
<line x1="683.5" y1="224.45" x2="683.5" y2="395.45" stroke="#4a4a4a" stroke-width="1"/>
<line x1="397.6" y1="395.45" x2="397.6" y2="397.95" stroke="#4a4a4a" stroke-width="0.8"/>
<line x1="440.4" y1="395.45" x2="440.4" y2="397.95" stroke="#4a4a4a" stroke-width="0.8"/>
<line x1="492.4" y1="395.45" x2="492.4" y2="397.95" stroke="#4a4a4a" stroke-width="0.8"/>
<line x1="535.2" y1="395.45" x2="535.2" y2="397.95" stroke="#4a4a4a" stroke-width="0.8"/>
<line x1="587.2" y1="395.45" x2="587.2" y2="397.95" stroke="#4a4a4a" stroke-width="0.8"/>
<line x1="630.0" y1="395.45" x2="630.0" y2="397.95" stroke="#4a4a4a" stroke-width="0.8"/>
<line x1="672.8" y1="395.45" x2="672.8" y2="397.95" stroke="#4a4a4a" stroke-width="0.8"/>
<line x1="381.8" y1="237.32" x2="384.3" y2="237.32" stroke="#4a4a4a" stroke-width="0.8"/>
<text x="377.90" y="241.22" font-size="7.8" text-anchor="end" >600</text>
<line x1="381.8" y1="263.55" x2="384.3" y2="263.55" stroke="#4a4a4a" stroke-width="0.8"/>
<text x="377.90" y="267.45" font-size="7.8" text-anchor="end" >500</text>
<line x1="381.8" y1="289.78" x2="384.3" y2="289.78" stroke="#4a4a4a" stroke-width="0.8"/>
<text x="377.90" y="293.68" font-size="7.8" text-anchor="end" >400</text>
<line x1="381.8" y1="316.01" x2="384.3" y2="316.01" stroke="#4a4a4a" stroke-width="0.8"/>
<text x="377.90" y="319.91" font-size="7.8" text-anchor="end" >300</text>
<line x1="381.8" y1="342.24" x2="384.3" y2="342.24" stroke="#4a4a4a" stroke-width="0.8"/>
<text x="377.90" y="346.14" font-size="7.8" text-anchor="end" >200</text>
<line x1="381.8" y1="368.47" x2="384.3" y2="368.47" stroke="#4a4a4a" stroke-width="0.8"/>
<text x="377.90" y="372.37" font-size="7.8" text-anchor="end" >100</text>
<text x="370.60" y="394.10" font-size="7.8" text-anchor="start" >0</text>
<text x="420.90" y="411.20" font-size="7.8" text-anchor="start" >15th December</text>
<text x="517.00" y="411.20" font-size="7.8" text-anchor="start" >15th January</text>
<text x="605.00" y="411.20" font-size="7.8" text-anchor="start" >15th February</text>
<text class="yl" x="0" y="0" font-size="7.7" text-anchor="middle" transform="translate(356.8,309.65) rotate(-90)">Daily average power output in winter (MW)</text>
<line x1="397.8" y1="245.5" x2="416.0" y2="245.5" stroke="#7a7ae0" stroke-width="1"/>
<text x="419.40" y="248.50" font-size="7.8" text-anchor="start" >Case 1</text>
<line x1="397.8" y1="256.9" x2="416.0" y2="256.9" stroke="#e86a6a" stroke-width="1"/>
<text x="419.40" y="259.90" font-size="7.8" text-anchor="start" >Case 2</text>
<line x1="397.8" y1="268.3" x2="416.0" y2="268.3" stroke="#8ad88a" stroke-width="1"/>
<text x="419.40" y="271.30" font-size="7.8" text-anchor="start" >Case 3</text>
<text x="503.30" y="435.40" font-size="17" text-anchor="start" class="cap">(</text>
<text x="509.20" y="435.40" font-size="17" text-anchor="start" class="cap">d</text>
<text x="518.40" y="435.40" font-size="17" text-anchor="start" class="cap">)</text>
<line x1="622.6" y1="289.6" x2="622.6" y2="307.8" stroke="#000" stroke-width="1.2"/>
<path d="M622.6,284.6L620.0,291.6L625.2,291.6Z" fill="#000"/>
<rect x="553.3" y="227.2" width="93.60" height="51.60" fill="#fff" stroke="#4a4a4a" stroke-width="0.9"/>
<polyline points="557.20,266.72 559.10,265.25 560.50,266.72 562.30,274.91 563.70,278.50 567.50,278.50 569.40,273.16 571.70,270.59 574.00,268.47 576.40,264.61 579.20,259.27 580.60,260.28 582.90,267.18 585.70,274.91 588.30,278.32 590.40,274.91 592.70,269.76 594.10,268.75 595.50,270.59 596.70,271.42 598.80,264.61 601.10,261.11 604.10,257.71 605.90,261.11 608.30,263.32 611.10,264.98 613.40,259.00 616.70,251.64 618.10,252.10 620.40,253.84 622.80,255.59 625.60,262.40 627.40,253.38 629.30,251.64 630.70,252.56 633.50,259.46 636.80,266.26 639.10,272.34 641.00,278.32 642.90,278.50" fill="none" stroke="#2c2cc8" stroke-width="1.0" stroke-linejoin="round"/>
<polyline points="557.20,265.70 559.10,264.10 560.50,265.70 562.30,274.60 563.70,278.50 567.50,278.50 569.40,272.70 571.70,269.90 574.00,267.60 576.40,263.40 579.20,257.60 580.60,258.70 582.90,266.20 585.70,274.60 588.30,278.30 590.40,274.60 592.70,269.00 594.10,267.90 595.50,269.90 596.70,270.80 598.80,263.40 601.10,259.60 604.10,255.90 605.90,259.60 608.30,262.00 611.10,263.80 613.40,257.30 616.70,249.30 618.10,249.80 620.40,251.70 622.80,253.60 625.60,261.00 627.40,251.20 629.30,249.30 630.70,250.30 633.50,257.80 636.80,265.20 639.10,271.80 641.00,278.30 642.90,278.50" fill="none" stroke="#ec2424" stroke-width="1.0" stroke-linejoin="round"/>
<polyline points="557.20,269.16 559.10,267.99 560.50,269.16 562.30,275.65 563.70,278.50 567.50,278.50 569.40,274.27 571.70,272.22 574.00,270.54 576.40,267.48 579.20,263.24 580.60,264.05 582.90,269.52 585.70,275.65 588.30,278.35 590.40,275.65 592.70,271.56 594.10,270.76 595.50,272.22 596.70,272.88 598.80,267.48 601.10,264.70 604.10,262.00 605.90,264.70 608.30,266.45 611.10,267.77 613.40,263.02 616.70,257.18 618.10,257.55 620.40,258.94 622.80,260.32 625.60,265.73 627.40,258.57 629.30,257.18 630.70,257.91 633.50,263.39 636.80,268.79 639.10,273.61 641.00,278.35 642.90,278.50" fill="none" stroke="#3cc43c" stroke-width="1.0" stroke-linejoin="round"/>
<text x="546.00" y="279.35" font-size="5.2" text-anchor="middle" class="sm">0</text>
<text x="546.00" y="269.63" font-size="5.2" text-anchor="middle" class="sm">200</text>
<line x1="553.3" y1="269.08" x2="554.8" y2="269.08" stroke="#4a4a4a" stroke-width="0.5"/>
<text x="546.00" y="259.91" font-size="5.2" text-anchor="middle" class="sm">400</text>
<line x1="553.3" y1="259.36" x2="554.8" y2="259.36" stroke="#4a4a4a" stroke-width="0.5"/>
<text x="546.00" y="250.19" font-size="5.2" text-anchor="middle" class="sm">600</text>
<line x1="553.3" y1="249.64" x2="554.8" y2="249.64" stroke="#4a4a4a" stroke-width="0.5"/>
<text x="546.00" y="240.47" font-size="5.2" text-anchor="middle" class="sm">800</text>
<line x1="553.3" y1="239.92" x2="554.8" y2="239.92" stroke="#4a4a4a" stroke-width="0.5"/>
<text x="546.00" y="230.75" font-size="5.2" text-anchor="middle" class="sm">1000</text>
<line x1="553.3" y1="230.20" x2="554.8" y2="230.20" stroke="#4a4a4a" stroke-width="0.5"/>
<text x="581.88" y="286.50" font-size="5.2" text-anchor="middle" class="sm">24</text>
<line x1="581.88" y1="278.8" x2="581.88" y2="277.3" stroke="#4a4a4a" stroke-width="0.5"/>
<text x="614.76" y="286.50" font-size="5.2" text-anchor="middle" class="sm">48</text>
<line x1="614.76" y1="278.8" x2="614.76" y2="277.3" stroke="#4a4a4a" stroke-width="0.5"/>
<text x="647.30" y="286.50" font-size="5.2" text-anchor="middle" class="sm">72</text>
<text x="602.50" y="295.80" font-size="5.2" text-anchor="middle" class="sm">Hour(h)</text>
<text class="sm" x="0" y="0" font-size="5.0" text-anchor="middle" transform="translate(529.3,251.3) rotate(-90)">Hourly power output</text>
<text class="sm" x="0" y="0" font-size="5.0" text-anchor="middle" transform="translate(536.8,251.3) rotate(-90)">(MW)</text>
</g>
</svg></body></html>
